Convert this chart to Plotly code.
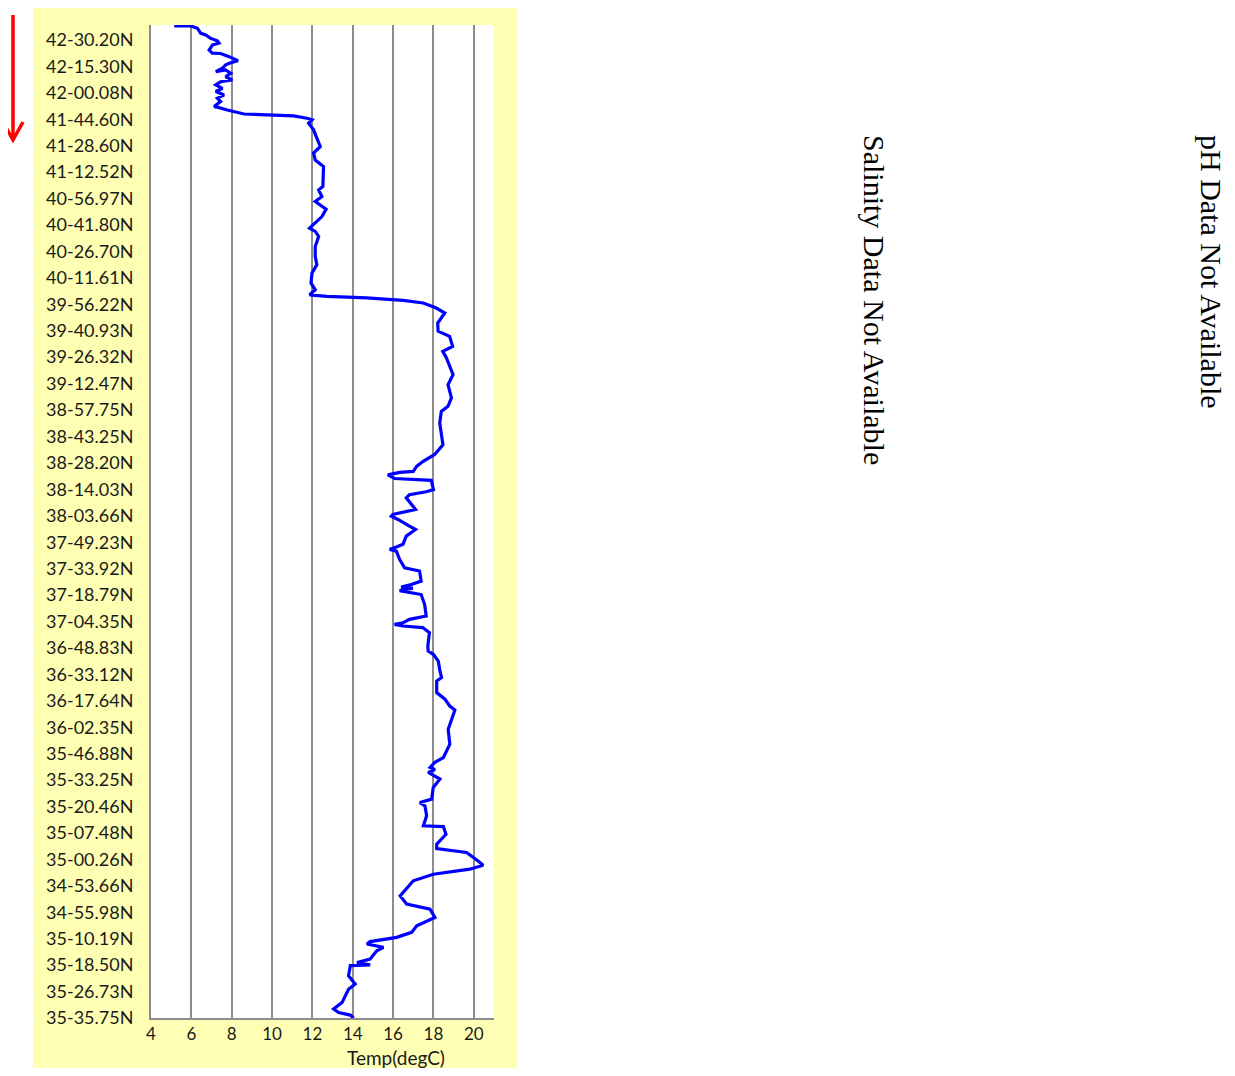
import plotly.graph_objects as go

# Track position labels (top to bottom)
lat_labels = ["42-30.20N", "42-15.30N", "42-00.08N", "41-44.60N", "41-28.60N", "41-12.52N",
              "40-56.97N", "40-41.80N", "40-26.70N", "40-11.61N", "39-56.22N", "39-40.93N",
              "39-26.32N", "39-12.47N", "38-57.75N", "38-43.25N", "38-28.20N", "38-14.03N",
              "38-03.66N", "37-49.23N", "37-33.92N", "37-18.79N", "37-04.35N", "36-48.83N",
              "36-33.12N", "36-17.64N", "36-02.35N", "35-46.88N", "35-33.25N", "35-20.46N",
              "35-07.48N", "35-00.26N", "34-53.66N", "34-55.98N", "35-10.19N", "35-18.50N",
              "35-26.73N", "35-35.75N"]
label_pos = list(range(len(lat_labels)))

# Position along track (label index units) and temperature (degC)
track_pos = [-0.53, -0.53, -0.44, -0.25, -0.19, -0.06, 0.03, 0.12, 0.19, 0.38, 0.50, 0.51, 0.63,
             0.78, 0.86, 0.94, 1.07, 1.20, 1.13, 1.26, 1.39, 1.51, 1.58, 1.70, 1.83, 1.95, 2.08,
             2.20, 2.33, 2.52, 2.54, 2.65, 2.80, 2.83, 2.87, 2.96, 3.02, 3.15, 3.40, 3.71, 4.03,
             4.28, 4.54, 4.79, 5.23, 5.54, 5.67, 5.92, 6.11, 6.40, 6.68, 6.93, 7.12, 7.24, 7.43,
             7.81, 8.19, 8.50, 8.82, 9.20, 9.45, 9.64, 9.70, 9.76, 9.85, 9.95, 10.14, 10.33,
             10.71, 11.02, 11.21, 11.59, 11.78, 12.02, 12.35, 12.66, 13.04, 13.54, 13.86, 14.05,
             14.49, 14.86, 15.31, 15.68, 15.94, 16.13, 16.32, 16.36, 16.45, 16.59, 16.66, 17.01,
             17.09, 17.20, 17.32, 17.76, 17.83, 17.95, 18.02, 18.14, 18.39, 18.52, 18.77, 19.08,
             19.21, 19.27, 19.34, 19.65, 19.97, 20.09, 20.47, 20.60, 20.70, 20.74, 20.83, 20.98,
             21.35, 21.79, 21.92, 22.05, 22.11, 22.17, 22.23, 22.42, 22.93, 23.12, 23.24, 23.50,
             23.87, 24.12, 24.25, 24.69, 24.94, 25.20, 25.35, 25.70, 26.08, 26.64, 27.15, 27.33,
             27.52, 27.60, 27.71, 27.96, 28.28, 28.72, 28.85, 28.98, 29.35, 29.73, 29.76, 30.05,
             30.42, 30.59, 30.74, 31.06, 31.22, 31.37, 31.56, 31.81, 32.12, 32.38, 32.69, 32.76,
             32.88, 33.20, 33.51, 33.76, 33.95, 34.11, 34.20, 34.33, 34.46, 34.77, 34.90, 34.99,
             35.02, 35.40, 35.71, 35.91, 36.16, 36.41, 36.66, 36.79, 36.89, 37.0]
temp = [5.15, 5.97, 6.30, 6.47, 6.71, 6.96, 7.29, 7.37, 7.04, 6.88, 7.04, 7.45, 7.87,
        8.31, 7.95, 7.70, 7.54, 7.21, 7.70, 7.95, 7.70, 8.03, 7.45, 7.21, 7.54, 7.21, 7.62,
        7.29, 7.45, 7.13, 7.29, 7.78, 8.61, 10.09, 11.07, 11.73, 11.98, 11.81, 12.06, 12.22, 12.39,
        12.06, 12.14, 12.55, 12.52, 12.52, 12.31, 12.47, 12.14, 12.68, 12.47, 12.14, 11.86, 12.14, 12.31,
        12.14, 12.14, 12.22, 11.98, 11.93, 12.14, 11.86, 12.72, 14.69, 16.50, 17.49, 18.14, 18.56,
        18.21, 18.23, 18.80, 18.95, 18.46, 18.64, 18.80, 18.97, 18.72, 18.89, 18.72, 18.39,
        18.31, 18.39, 18.47, 18.06, 17.49, 17.16, 17.00, 16.32, 15.74, 16.07, 17.89, 18.00,
        17.64, 16.81, 16.65, 17.11, 16.73, 15.99, 15.91, 16.24, 16.81, 17.11, 16.65, 16.49,
        16.07, 15.83, 16.16, 16.32, 16.57, 17.31, 17.39, 16.90, 16.40, 16.98, 16.32, 17.39,
        17.56, 17.64, 16.81, 16.49, 16.07, 16.49, 17.47, 17.80, 17.72, 17.74, 17.99, 18.24,
        18.32, 18.40, 18.16, 18.16, 18.57, 18.81, 19.06, 18.90, 18.73, 18.81, 18.49, 18.07,
        17.83, 18.07, 17.74, 18.32, 17.99, 17.91, 17.33, 17.58, 17.66, 17.50, 18.49, 18.62,
        18.16, 18.16, 19.64, 20.21, 20.46, 19.80, 17.99, 17.00, 16.67, 16.35, 16.67, 17.17,
        17.83, 18.07, 17.17, 16.92, 16.18, 14.86, 14.70, 15.52, 15.19, 14.86, 14.21, 14.86,
        13.88, 13.79, 14.12, 13.79, 13.63, 13.47, 13.05, 13.30, 13.88, 14.04]

x_ticks = [4, 6, 8, 10, 12, 14, 16, 18, 20]

# page body has an 8px margin
OFF = 8
W, H = 1235 - 2 * OFF, 1076 - 2 * OFF
def px(x):
    return (x - OFF) / W
def py(y):
    return 1 - (y - OFF) / H

fig = go.Figure()
fig.add_trace(go.Scatter(x=temp, y=track_pos, mode="lines",
                         line=dict(color="#0000FF", width=3.2), hoverinfo="skip",
                         showlegend=False))

grid_col = "#8c8c8c"
txt_col = "#1a1a1a"
fig.update_layout(
    width=W, height=H,
    margin=dict(l=0, r=0, t=0, b=0),
    paper_bgcolor="white",
    plot_bgcolor="white",
    font=dict(family="Lato, Open Sans, sans-serif", size=18, color=txt_col),
    xaxis=dict(domain=[px(151), px(494)], range=[4, 21], tickvals=x_ticks,
               showgrid=True, gridcolor=grid_col, gridwidth=2,
               showline=True, linecolor=grid_col, linewidth=2,
               zeroline=False, ticks="", ticklabelstandoff=0,
               tickfont=dict(size=17, color=txt_col), automargin=False,
               fixedrange=True),
    yaxis=dict(domain=[py(1018), py(25)], range=[37, -0.567],
               tickvals=label_pos, ticktext=lat_labels,
               showgrid=False, zeroline=False,
               showline=True, linecolor=grid_col, linewidth=2,
               ticks="", ticklabelstandoff=12,
               tickfont=dict(size=18, color=txt_col), automargin=False,
               fixedrange=True),
    shapes=[
        dict(type="rect", xref="paper", yref="paper", layer="below",
             x0=px(33), x1=px(517), y0=py(1073), y1=py(2),
             fillcolor="#FFFFB4", line=dict(width=0)),
        dict(type="rect", xref="paper", yref="paper", layer="below",
             x0=px(151), x1=px(494), y0=py(1018), y1=py(25),
             fillcolor="white", line=dict(width=0)),
        dict(type="line", xref="paper", yref="paper",
             x0=px(13), x1=px(13), y0=py(15), y1=py(139),
             line=dict(color="#FF0000", width=3.5)),
        dict(type="path", xref="paper", yref="paper",
             path=f"M {px(3)},{py(122)} L {px(13)},{py(140)} L {px(23)},{py(122)}",
             line=dict(color="#FF0000", width=3.5)),
    ],
    annotations=[
        dict(text="Temp(degC)", xref="paper", yref="paper", x=px(396), y=py(1057),
             showarrow=False, font=dict(size=19, color=txt_col),
             xanchor="center", yanchor="middle"),
        dict(text="Salinity Data Not Available", xref="paper", yref="paper",
             x=px(874), y=py(300), textangle=90, showarrow=False,
             font=dict(family="Liberation Serif, Times New Roman, serif", size=30, color="black"),
             xanchor="center", yanchor="middle"),
        dict(text="pH Data Not Available", xref="paper", yref="paper",
             x=px(1211), y=py(272), textangle=90, showarrow=False,
             font=dict(family="Liberation Serif, Times New Roman, serif", size=30, color="black"),
             xanchor="center", yanchor="middle"),
    ],
)

fig.write_html("out.html")
